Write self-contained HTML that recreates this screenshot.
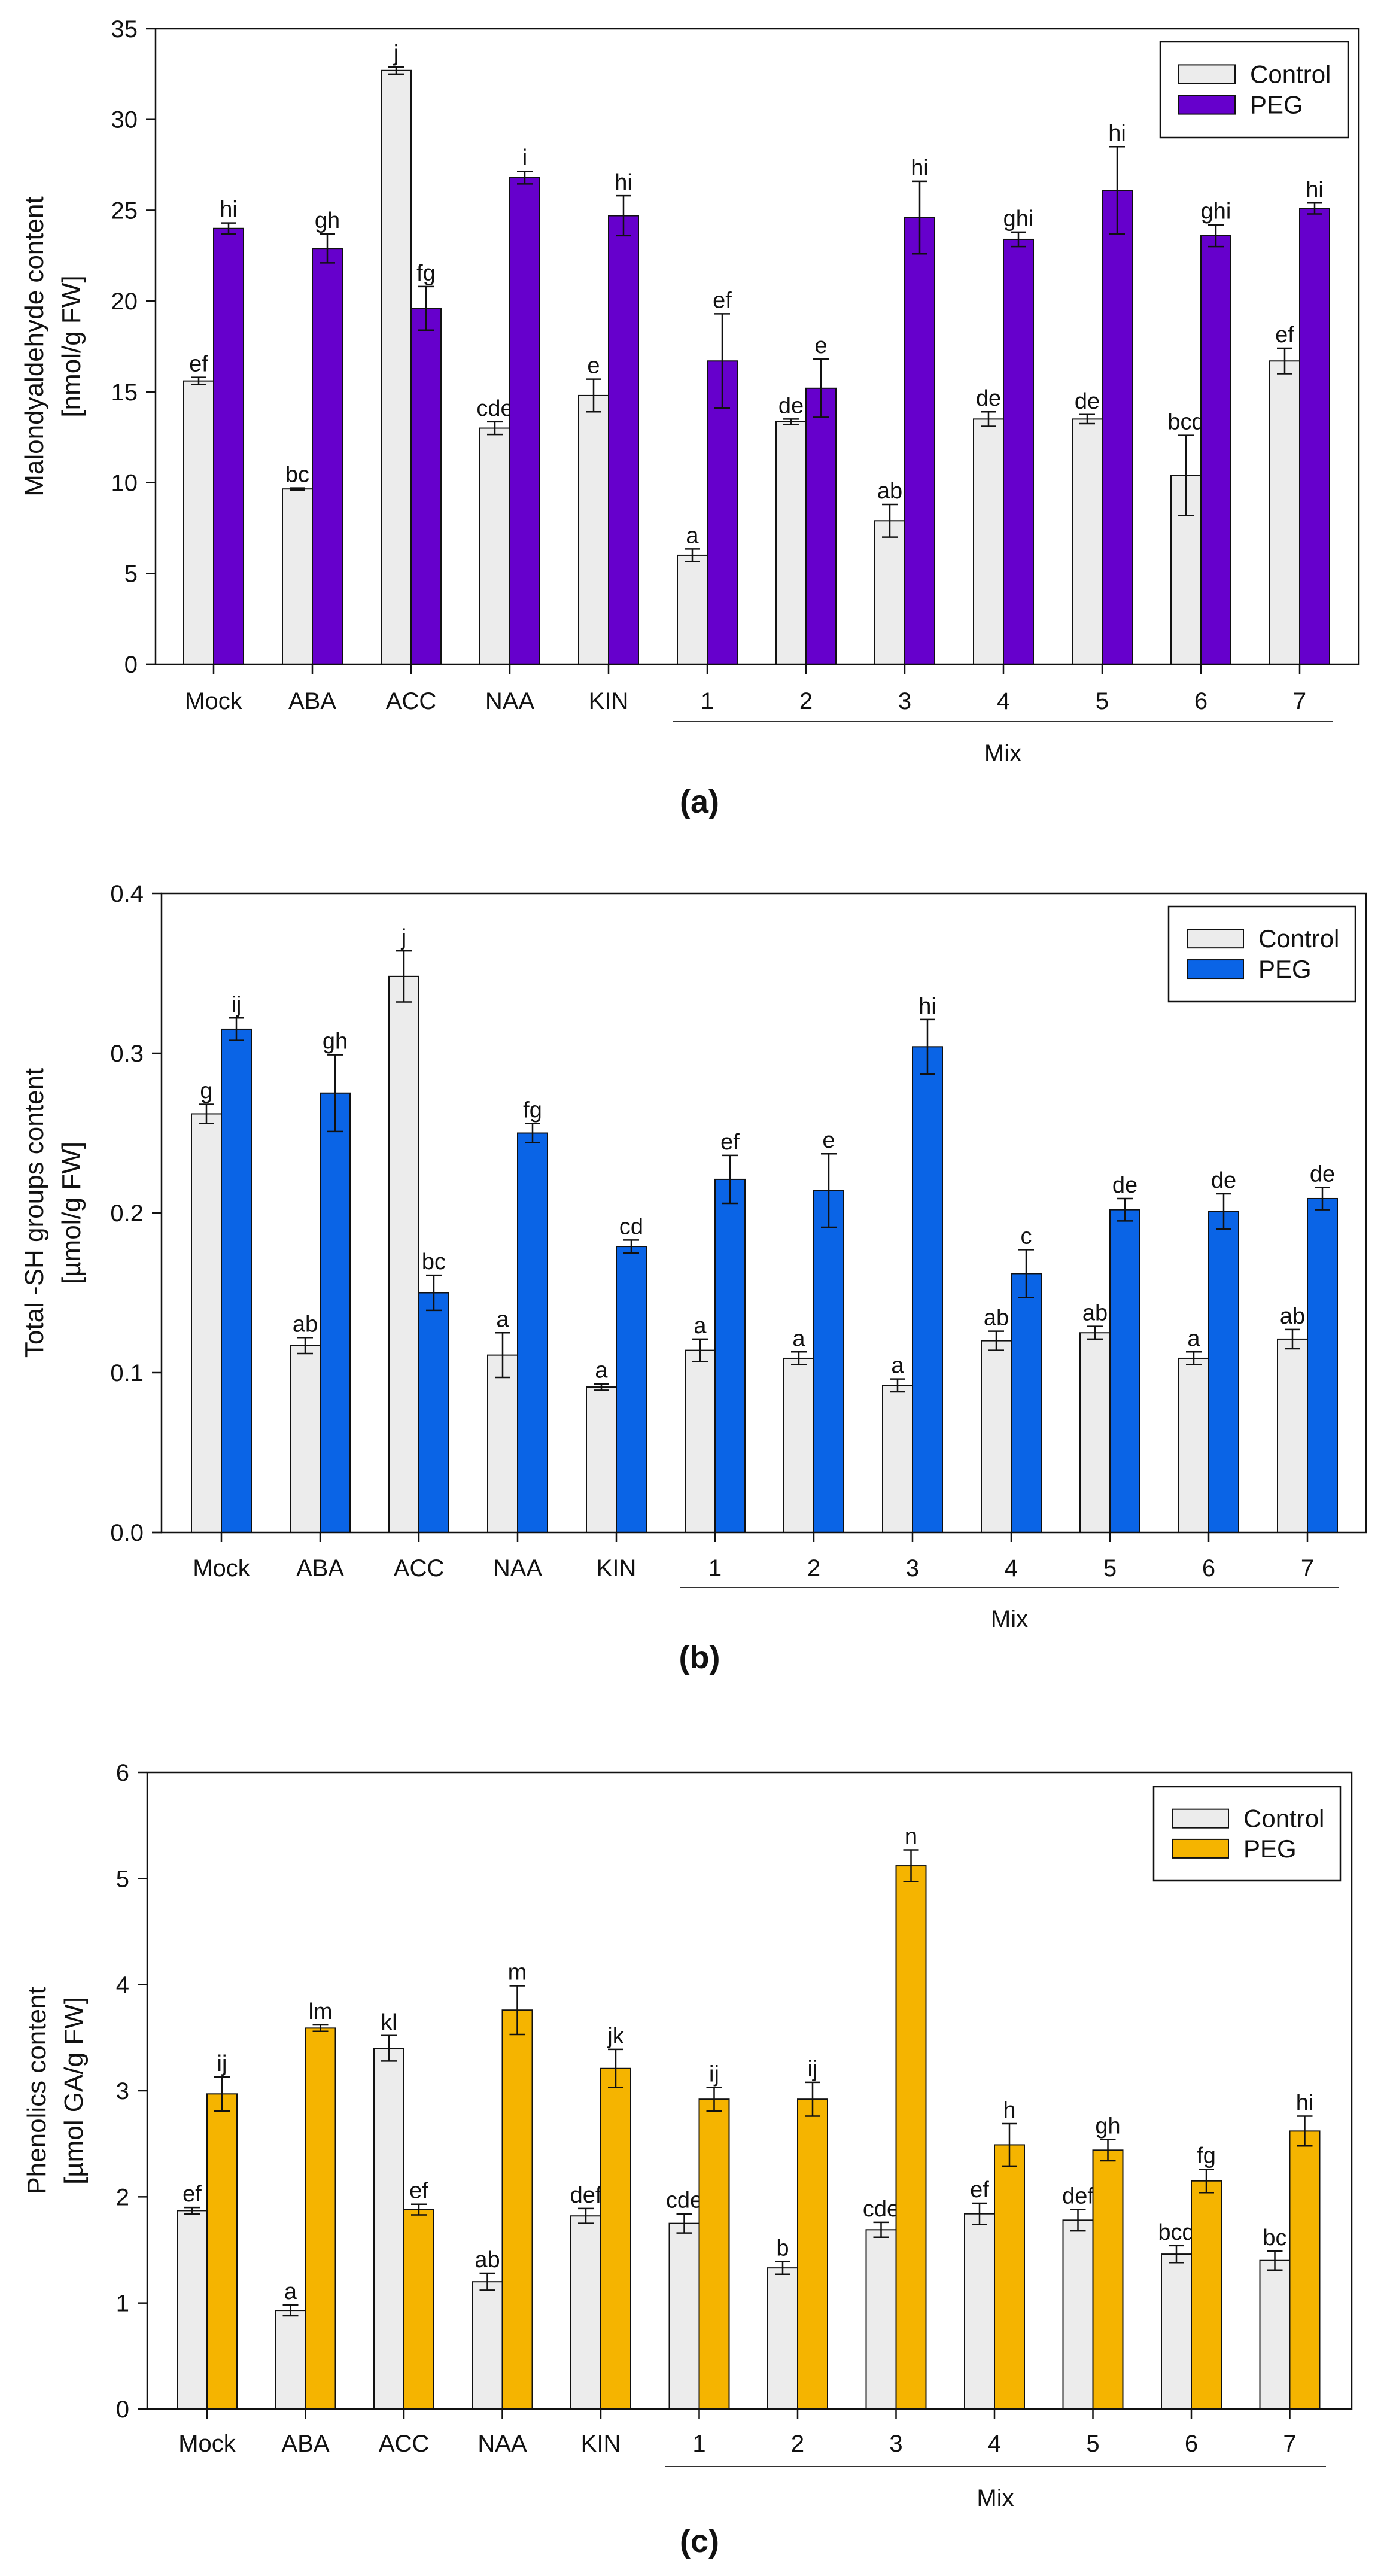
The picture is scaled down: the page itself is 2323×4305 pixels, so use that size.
<!DOCTYPE html>
<html><head><meta charset="utf-8"><style>
html,body{margin:0;padding:0;background:#fff;}
svg{display:block;}
text{font-family:"Liberation Sans",Arial,sans-serif;fill:#111;}
</style></head><body>
<svg id="fig" width="2323" height="4305" viewBox="0 0 2323 4305" xmlns="http://www.w3.org/2000/svg"></svg>
<script>
const categories = ["Mock","ABA","ACC","NAA","KIN","1","2","3","4","5","6","7"];
// Panel a: Malondyaldehyde
const aCtrl = [15.6,9.65,32.7,13.0,14.8,6.0,13.35,7.9,13.5,13.5,10.4,16.7];
const aCtrlErr = [0.2,0.05,0.2,0.35,0.9,0.35,0.15,0.9,0.4,0.25,2.2,0.7];
const aPeg = [24.0,22.9,19.6,26.8,24.7,16.7,15.2,24.6,23.4,26.1,23.6,25.1];
const aPegErr = [0.3,0.8,1.2,0.35,1.1,2.6,1.6,2.0,0.4,2.4,0.6,0.3];
const aCtrlLet = ["ef","bc","j","cde","e","a","de","ab","de","de","bcd","ef"];
const aPegLet = ["hi","gh","fg","i","hi","ef","e","hi","ghi","hi","ghi","hi"];
const aTicks = ["0","5","10","15","20","25","30","35"];
// Panel b: Total -SH
const bCtrl = [0.262,0.117,0.348,0.111,0.091,0.114,0.109,0.092,0.120,0.125,0.109,0.121];
const bCtrlErr = [0.006,0.005,0.016,0.014,0.002,0.007,0.004,0.004,0.006,0.004,0.004,0.006];
const bPeg = [0.315,0.275,0.150,0.250,0.179,0.221,0.214,0.304,0.162,0.202,0.201,0.209];
const bPegErr = [0.007,0.024,0.011,0.006,0.004,0.015,0.023,0.017,0.015,0.007,0.011,0.007];
const bCtrlLet = ["g","ab","j","a","a","a","a","a","ab","ab","a","ab"];
const bPegLet = ["ij","gh","bc","fg","cd","ef","e","hi","c","de","de","de"];
const bTicks = ["0.0","0.1","0.2","0.3","0.4"];
// Panel c: Phenolics
const cCtrl = [1.87,0.93,3.40,1.20,1.82,1.75,1.33,1.69,1.84,1.78,1.46,1.40];
const cCtrlErr = [0.03,0.05,0.12,0.08,0.07,0.09,0.06,0.07,0.10,0.10,0.08,0.09];
const cPeg = [2.97,3.59,1.88,3.76,3.21,2.92,2.92,5.12,2.49,2.44,2.15,2.62];
const cPegErr = [0.16,0.03,0.05,0.23,0.18,0.11,0.16,0.15,0.20,0.10,0.11,0.14];
const cCtrlLet = ["ef","a","kl","ab","def","cde","b","cde","ef","def","bcd","bc"];
const cPegLet = ["ij","lm","ef","m","jk","ij","ij","n","h","gh","fg","hi"];
const cTicks = ["0","1","2","3","4","5","6"];

const NS="http://www.w3.org/2000/svg";
const svg=document.getElementById('fig');
function mk(tag,attrs,parent,txt){const e=document.createElementNS(NS,tag);for(const k in attrs)e.setAttribute(k,attrs[k]);if(txt!==undefined)e.textContent=txt;(parent||svg).appendChild(e);return e;}

function panel(p){
  const g=mk('g',{});
  
  
  const ymax=parseFloat(p.ticks[p.ticks.length-1]);
  const Y=v=>p.bottom-(v/ymax)*(p.bottom-p.top);
  const X=i=>p.c0+i*p.sp;
  // bars
  for(let i=0;i<categories.length;i++){
    const cx=X(i);
    [[p.ctrl,p.ctrlErr,p.ctrlLet,'#ececec',cx-p.bw,'control'],[p.peg,p.pegErr,p.pegLet,p.color,cx,'peg']].forEach(s=>{
      const v=s[0][i],e=s[1][i],x0=s[4];
      const r=mk('rect',{x:x0,y:Y(v),width:p.bw,height:p.bottom-Y(v),fill:s[3],stroke:'#111','stroke-width':2},g);
      
      
      const m=x0+p.bw/2;
      const eb=mk('path',{d:`M${m},${Y(v+e)}V${Y(v-e)}M${m-13},${Y(v+e)}H${m+13}M${m-13},${Y(v-e)}H${m+13}`,stroke:'#111','stroke-width':2.5,fill:'none'},g);
      
      
      const t=mk('text',{x:m,y:Y(v+e)-10,'text-anchor':'middle','font-size':38},g,s[2][i]);
      
      
    });
    mk('line',{x1:cx,x2:cx,y1:p.bottom,y2:p.bottom+16,stroke:'#111','stroke-width':2.5},g);
    const xl=mk('text',{x:cx,y:p.labY,'text-anchor':'middle','font-size':40},g,categories[i]);
    
    
  }
  // frame
  mk('rect',{x:p.left,y:p.top,width:p.right-p.left,height:p.bottom-p.top,fill:'none',stroke:'#111','stroke-width':2.5},g);
  mk('line',{x1:p.left-16,x2:p.left,y1:p.bottom,y2:p.bottom,stroke:'#111','stroke-width':2.5},g);
  p.ticks.forEach(tl=>{
    const y=Y(parseFloat(tl));
    mk('line',{x1:p.left-16,x2:p.left,y1:y,y2:y,stroke:'#111','stroke-width':2.5},g);
    const t=mk('text',{x:p.left-30,y:y+14,'text-anchor':'end','font-size':40},g,tl);
    
    
  });
  // y title
  const my=(p.top+p.bottom)/2;
  const yt=mk('text',{transform:`translate(${p.tx1},${my}) rotate(-90)`,'text-anchor':'middle','font-size':44},g,p.t1);
  
  
  const yt2=mk('text',{transform:`translate(${p.tx1+62},${my}) rotate(-90)`,'text-anchor':'middle','font-size':44},g,p.t2);
  
  
  // mix
  const ml=mk('line',{x1:p.mix[0],x2:p.mix[1],y1:p.mixY,y2:p.mixY,stroke:'#333','stroke-width':2},g);
  
  
  const mt=mk('text',{x:(p.mix[0]+p.mix[1])/2,y:p.mixY+66,'text-anchor':'middle','font-size':40},g,'Mix');
  
  
  const pl=mk('text',{x:1169,y:p.plY,'text-anchor':'middle','font-size':54,'font-weight':'bold'},g,'('+p.id+')');
  
  
  // legend
  const L=p.leg;
  const lg=mk('g',{},g);
  
  
  mk('rect',{x:L[0],y:L[1],width:L[2]-L[0],height:L[3]-L[1],fill:'#fff',stroke:'#111','stroke-width':2.5},lg);
  const h=L[3]-L[1];
  mk('rect',{x:L[0]+31,y:L[1]+h*0.24,width:94,height:31,fill:'#ececec',stroke:'#111','stroke-width':2},lg);
  mk('rect',{x:L[0]+31,y:L[1]+h*0.56,width:94,height:31,fill:p.color,stroke:'#111','stroke-width':2},lg);
  const e1=mk('text',{x:L[0]+150,y:L[1]+h*0.24+30,'font-size':42},lg,'Control');
  
  
  const e2=mk('text',{x:L[0]+150,y:L[1]+h*0.56+30,'font-size':42},lg,'PEG');
  
  
}

panel({id:'a',ctrl:aCtrl,ctrlErr:aCtrlErr,peg:aPeg,pegErr:aPegErr,ctrlLet:aCtrlLet,pegLet:aPegLet,ticks:aTicks,
  color:'#6600cc',left:260,right:2271,top:48,bottom:1110,c0:357,sp:165,bw:50,labY:1185,
  tx1:72,t1:'Malondyaldehyde content',t2:'[nmol/g FW]',mix:[1124,2228],mixY:1206,plY:1358,leg:[1939,70,2253,230]});
panel({id:'b',ctrl:bCtrl,ctrlErr:bCtrlErr,peg:bPeg,pegErr:bPegErr,ctrlLet:bCtrlLet,pegLet:bPegLet,ticks:bTicks,
  color:'#0a64e6',left:270,right:2283,top:1493,bottom:2561,c0:370,sp:165,bw:50,labY:2634,
  tx1:72,t1:'Total -SH groups content',t2:'[µmol/g FW]',mix:[1136,2238],mixY:2653,plY:2788,leg:[1953,1515,2265,1674]});
panel({id:'c',ctrl:cCtrl,ctrlErr:cCtrlErr,peg:cPeg,pegErr:cPegErr,ctrlLet:cCtrlLet,pegLet:cPegLet,ticks:cTicks,
  color:'#f5b400',left:246,right:2259,top:2962,bottom:4026,c0:346,sp:164.5,bw:50,labY:4097,
  tx1:76,t1:'Phenolics content',t2:'[µmol GA/g FW]',mix:[1111,2216],mixY:4122,plY:4265,leg:[1928,2986,2240,3143]});
</script>
</body></html>
